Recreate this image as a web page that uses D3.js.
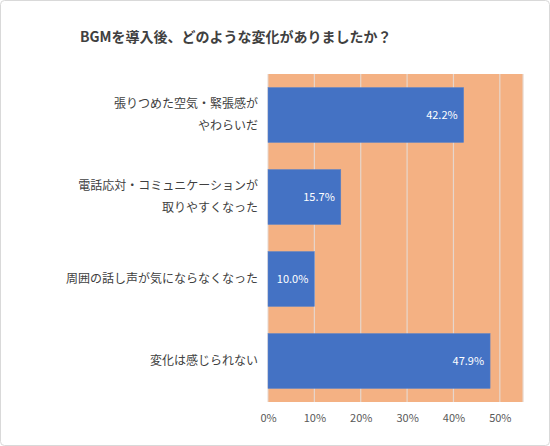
<!DOCTYPE html><html><head><meta charset="utf-8"><script src="https://cdn.jsdelivr.net/npm/d3@7"></script>
<style>body{margin:0;background:#fff}</style></head><body><svg id="c" width="550" height="446"></svg>
<script>
const categories=[["張りつめた空気・緊張感が","やわらいだ"],["電話応対・コミュニケーションが","取りやすくなった"],["周囲の話し声が気にならなくなった"],["変化は感じられない"]];
const values=[42.2,15.7,10.0,47.9];
const ticks=[0,10,20,30,40,50];
const svg=d3.select("#c");
const font="'Noto Sans CJK JP','Noto Sans',sans-serif";
svg.append("rect").attr("x",0.5).attr("y",0.5).attr("width",549).attr("height",445).attr("rx",4).attr("fill","#fff").attr("stroke","#d9d9d9");
svg.append("text").attr("x",80).attr("y",42).text("BGMを導入後、どのような変化がありましたか？").attr("font-family",font).attr("font-size",14).attr("font-weight","bold").attr("fill","#404040");
const x=d3.scaleLinear().domain([0,55]).range([268,523]);
const y=d3.scaleBand().domain(d3.range(4)).range([74,402]).paddingInner(0.33).paddingOuter(0.165);
svg.append("rect").attr("x",x(0)).attr("y",74).attr("width",x(55)-x(0)).attr("height",328).attr("fill","#f4b183");
svg.selectAll(".g").data(ticks.slice(1).concat([55])).join("line").attr("x1",d=>x(d)).attr("x2",d=>x(d)).attr("y1",74).attr("y2",402).attr("stroke","#e6d6cc").attr("stroke-width",1.2);
svg.append("line").attr("x1",x(0)).attr("x2",x(0)).attr("y1",74).attr("y2",402).attr("stroke","#e6d6cc");
svg.selectAll(".b").data(values).join("rect").attr("x",x(0)).attr("y",(d,i)=>y(i)).attr("width",d=>x(d)-x(0)).attr("height",y.bandwidth()).attr("fill","#4472c4").attr("stroke","#5b83c9").attr("stroke-width",0.5);
svg.selectAll(".v").data(values).join("text").attr("x",d=>x(d)-6).attr("y",(d,i)=>y(i)+y.bandwidth()/2+4).attr("text-anchor","end").text(d=>d.toFixed(1)+"%").attr("font-family",font).attr("font-size",11).attr("fill","#fff");
const ax=svg.append("g").attr("transform","translate(0,402)").call(d3.axisBottom(x).tickValues(ticks).tickFormat(d=>d+"%").tickSize(0).tickPadding(12));
ax.select(".domain").remove();
ax.selectAll("text").attr("font-family",font).attr("font-size",11).attr("fill","#595959");
categories.forEach((c,i)=>{
 const cy=y(i)+y.bandwidth()/2;
 const n=c.length;
 c.forEach((t,j)=>{
  svg.append("text").attr("x",258).attr("y",cy+(j-(n-1)/2)*22+4).attr("text-anchor","end").text(t).attr("font-family",font).attr("font-size",12).attr("fill","#404040");
 });
});
</script></body></html>
